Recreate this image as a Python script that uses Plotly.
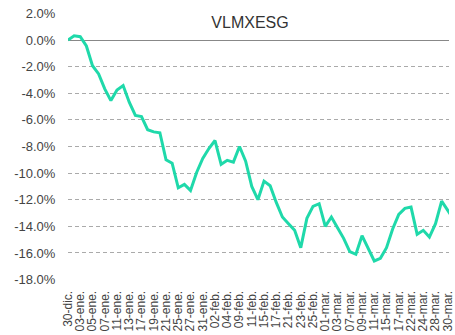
import plotly.graph_objects as go

# Trading days, 30-dic. to 31-mar.
dates = [
    "30-dic.", "31-dic.", "03-ene.", "04-ene.", "05-ene.", "06-ene.", "07-ene.",
    "10-ene.", "11-ene.", "12-ene.", "13-ene.", "14-ene.", "17-ene.", "18-ene.",
    "19-ene.", "20-ene.", "21-ene.", "24-ene.", "25-ene.", "26-ene.", "27-ene.",
    "28-ene.", "31-ene.", "01-feb.", "02-feb.", "03-feb.", "04-feb.", "08-feb.",
    "09-feb.", "10-feb.", "11-feb.", "14-feb.", "15-feb.", "16-feb.", "17-feb.",
    "18-feb.", "21-feb.", "22-feb.", "23-feb.", "24-feb.", "25-feb.", "28-feb.",
    "01-mar.", "02-mar.", "03-mar.", "04-mar.", "07-mar.", "08-mar.", "09-mar.",
    "10-mar.", "11-mar.", "14-mar.", "15-mar.", "16-mar.", "17-mar.", "18-mar.",
    "22-mar.", "23-mar.", "24-mar.", "25-mar.", "28-mar.", "29-mar.", "30-mar.",
    "31-mar.",
]

# Cumulative return of VLMXESG, in percent
returns_pct = [
    0.0, 0.32, 0.25, -0.45, -1.93, -2.55, -3.67, -4.55, -3.75, -3.42,
    -4.67, -5.67, -5.75, -6.74, -6.9, -6.97, -9.0, -9.25, -11.1, -10.85,
    -11.3, -9.95, -8.9, -8.15, -7.55, -9.34, -9.04, -9.17, -8.0, -9.1,
    -11.0, -12.0, -10.6, -10.95, -12.2, -13.3, -13.8, -14.3, -15.6, -13.4,
    -12.5, -12.3, -14.0, -13.3, -14.1, -14.9, -15.9, -16.1, -14.7, -15.6,
    -16.6, -16.4, -15.6, -14.2, -13.1, -12.65, -12.55, -14.6, -14.3, -14.8,
    -13.8, -12.1, -12.8, -13.5,
]

y_ticks = [2, 0, -2, -4, -6, -8, -10, -12, -14, -16, -18]
y_tick_text = [f"{v:.1f}%" for v in y_ticks]

fig = go.Figure()
fig.add_trace(go.Scatter(
    x=list(range(len(dates))),
    y=returns_pct,
    mode="lines",
    line=dict(color="#1FD9AA", width=3),
    hoverinfo="skip",
    cliponaxis=True,
))

fig.update_layout(
    width=455,
    height=335,
    margin=dict(l=68, r=0, t=13, b=55),
    paper_bgcolor="white",
    plot_bgcolor="white",
    showlegend=False,
    font=dict(family="Liberation Sans, Arial, sans-serif", color="#444444"),
    title=dict(
        text="VLMXESG",
        font=dict(size=16, color="#333333"),
        xref="container", x=250 / 455, xanchor="center",
        yref="container", y=1 - 22 / 335, yanchor="middle",
    ),
    xaxis=dict(
        range=[0, 62.2],
        tickmode="array",
        tickvals=list(range(0, len(dates), 2)),
        ticktext=dates[::2],
        tickangle=-90,
        tickfont=dict(size=12, color="#444444"),
        ticklabeloverflow="allow",
        showgrid=False,
        zeroline=False,
        showline=False,
        ticks="outside",
        ticklen=5,
        tickcolor="rgba(0,0,0,0)",
    ),
    yaxis=dict(
        range=[-18.03, 2.03],
        tickmode="array",
        tickvals=y_ticks,
        ticktext=y_tick_text,
        tickfont=dict(size=13, color="#444444"),
        showgrid=True,
        gridcolor="#AAAAAA",
        gridwidth=1,
        griddash="4px,3px",
        zeroline=True,
        zerolinecolor="#888888",
        zerolinewidth=1,
        showline=False,
        ticks="outside",
        ticklen=9,
        tickcolor="rgba(0,0,0,0)",
    ),
)

fig.write_html("out.html")
